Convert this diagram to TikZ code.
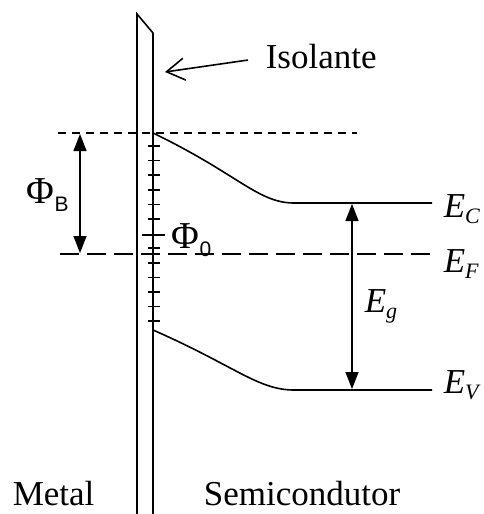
\documentclass[tikz,border=0pt]{standalone}
\usepackage{fontspec}
\setmainfont{Liberation Serif}
\newfontfamily\subsans{Liberation Sans}
\usetikzlibrary{arrows.meta,calc}

% energy level label E_x and barrier label Phi_x
\newcommand{\lvl}[1]{\textit{E}\raisebox{-6pt}{\fontsize{22}{24}\selectfont\textit{#1}}}
\newcommand{\barr}[1]{{\fontsize{38}{40}\selectfont Φ}\raisebox{-8pt}{\subsans\fontsize{21}{24}\selectfont #1}}

\begin{document}
\begin{tikzpicture}[x=1pt, y=-1pt, line width=1.6pt,
    lbl/.style={font=\fontsize{35}{40}\selectfont, inner sep=0pt, anchor=base west},
    toplevel/.style={dash pattern=on 8pt off 6pt},
    fermi/.style={dash pattern=on 19pt off 8pt},
    gap/.style={{Triangle[length=17pt,width=13pt]}-{Triangle[length=17pt,width=13pt]}},
    barb/.style={-{Straight Barb[length=18pt,width=22pt]}}
  ]
  \useasboundingbox (0,0) rectangle (484,514);

  % insulator layer
  \draw (137,514) -- (137,14) -- (153,33) -- (153,514);
  \foreach \k in {0,...,12} {
    \ifnum\k=6 \else
      \draw (148,{146+14.6*\k}) -- (160,{146+14.6*\k});
    \fi
  }
  \draw (142,235) -- (165,235);

  % levels
  \draw[toplevel] (58,133) -- (357,133);
  \draw[fermi] (60,254) -- (432,254);

  % bands
  \draw (153,133) .. controls (238,174) and (258,203) .. (294,203) -- (432,203);
  \draw (153,330) .. controls (235,366) and (258,390) .. (294,390) -- (432,390);

  % labels
  \node[lbl] (iso) at (265,68) {Isolante};
  \node[lbl] (ec) at (443,217) {\lvl{C}};
  \node[lbl] (ef) at (443,272) {\lvl{F}};
  \node[lbl] (ev) at (443,393) {\lvl{V}};
  \node[lbl] (eg) at (364,312) {\lvl{g}};
  \node[lbl] (phib) at (26,203) {\barr{B}};
  \node[lbl] (phi0) at (171,248) {\barr{0}};
  \node[lbl] (metal) at (12,505) {Metal};
  \node[lbl] (semi) at (203,505) {Semicondutor};

  % arrows
  \coordinate (isotip) at (165,72);
  \coordinate (bBtop) at (80,134);
  \coordinate (bBbot) at (80,253);
  \coordinate (gtop) at (352,204);
  \coordinate (gbot) at (352,389);
  \draw[barb] ([shift={(-17,4)}]iso.west) -- (isotip);
  \draw[gap] (bBtop) -- (bBbot);
  \draw[gap] (gtop) -- (gbot);
\end{tikzpicture}
\end{document}
